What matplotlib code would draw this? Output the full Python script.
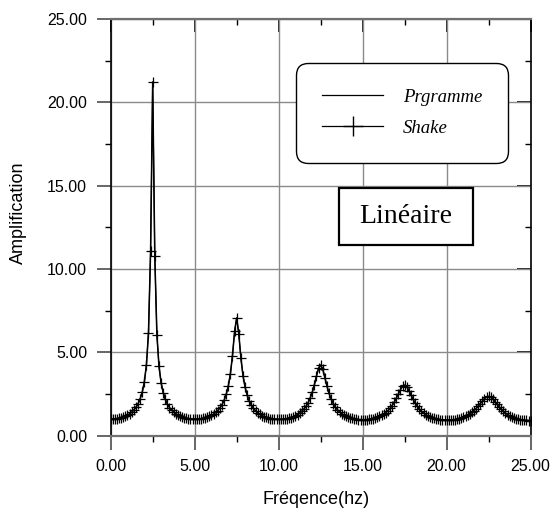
import numpy as np
import matplotlib
matplotlib.use("Agg")
import matplotlib.pyplot as plt
from matplotlib.lines import Line2D
from matplotlib.patches import Rectangle
from matplotlib.ticker import MultipleLocator, FormatStrFormatter

# frequency grid (Hz), step 0.125 Hz from 0 to 25 Hz
freq_step = 0.125
freq_hz = np.arange(201) * freq_step

programme = [
    1.00, 1.00, 1.01, 1.03, 1.05, 1.08, 1.12, 1.17, 1.24, 1.31,
    1.41, 1.54, 1.70, 1.91, 2.20, 2.60, 3.21, 4.22, 6.17, 11.07,
    21.22, 10.78, 6.07, 4.17, 3.18, 2.58, 2.18, 1.90, 1.69, 1.53,
    1.41, 1.31, 1.23, 1.17, 1.12, 1.08, 1.05, 1.02, 1.01, 1.00,
    1.00,
    1.00, 1.01, 1.02, 1.05, 1.08, 1.11, 1.16, 1.22, 1.30, 1.40,
    1.51, 1.67, 1.86, 2.12, 2.48, 2.98, 3.71, 4.81, 6.26, 7.07,
    6.11, 4.67, 3.61, 2.91, 2.43, 2.08, 1.83, 1.64, 1.49, 1.38,
    1.28, 1.21, 1.15, 1.10, 1.06, 1.03, 1.01, 1.00, 0.99, 0.98,
    0.99, 0.99, 1.01, 1.03, 1.06, 1.09, 1.14, 1.20, 1.27, 1.35,
    1.46, 1.60, 1.76, 1.98, 2.26, 2.61, 3.06, 3.59, 4.06, 4.24,
    3.99, 3.49, 2.97, 2.54, 2.19, 1.93, 1.72, 1.56, 1.43, 1.33,
    1.24, 1.18, 1.12, 1.07, 1.04, 1.01, 0.99, 0.97, 0.97, 0.96,
    0.96, 0.97, 0.99, 1.01, 1.03, 1.06, 1.11, 1.16, 1.22, 1.30,
    1.39, 1.50, 1.64, 1.81, 2.01, 2.25, 2.51, 2.77, 2.97, 3.03,
    2.93, 2.71, 2.44, 2.18, 1.95, 1.76, 1.60, 1.46, 1.35, 1.27,
    1.19, 1.13, 1.08, 1.04, 1.01, 0.98, 0.96, 0.95, 0.94, 0.94,
    0.94, 0.94, 0.96, 0.97, 1.00, 1.03, 1.06, 1.11, 1.17, 1.23,
    1.31, 1.40, 1.51, 1.63, 1.78, 1.93, 2.09, 2.23, 2.33, 2.36,
    2.31, 2.19, 2.04, 1.88, 1.72, 1.58, 1.46, 1.36, 1.27, 1.19,
    1.13, 1.08, 1.03, 1.00, 0.97, 0.95, 0.93, 0.92, 0.91, 0.90,
]

shake = [
    1.00, 1.00, 1.01, 1.03, 1.05, 1.08, 1.12, 1.17, 1.24, 1.31,
    1.41, 1.54, 1.70, 1.91, 2.20, 2.60, 3.21, 4.22, 6.17, 11.07,
    21.22, 10.78, 6.07, 4.17, 3.18, 2.58, 2.18, 1.90, 1.69, 1.53,
    1.41, 1.31, 1.23, 1.17, 1.12, 1.08, 1.05, 1.02, 1.01, 1.00,
    1.00,
    1.00, 1.01, 1.02, 1.05, 1.08, 1.11, 1.16, 1.22, 1.30, 1.40,
    1.51, 1.67, 1.86, 2.12, 2.48, 2.98, 3.71, 4.81, 6.26, 7.07,
    6.11, 4.67, 3.61, 2.91, 2.43, 2.08, 1.83, 1.64, 1.49, 1.38,
    1.28, 1.21, 1.15, 1.10, 1.06, 1.03, 1.01, 1.00, 0.99, 0.98,
    0.99, 0.99, 1.01, 1.03, 1.06, 1.09, 1.14, 1.20, 1.27, 1.35,
    1.46, 1.60, 1.76, 1.98, 2.26, 2.61, 3.06, 3.59, 4.06, 4.24,
    3.99, 3.49, 2.97, 2.54, 2.19, 1.93, 1.72, 1.56, 1.43, 1.33,
    1.24, 1.18, 1.12, 1.07, 1.04, 1.01, 0.99, 0.97, 0.97, 0.96,
    0.96, 0.97, 0.99, 1.01, 1.03, 1.06, 1.11, 1.16, 1.22, 1.30,
    1.39, 1.50, 1.64, 1.81, 2.01, 2.25, 2.51, 2.77, 2.97, 3.03,
    2.93, 2.71, 2.44, 2.18, 1.95, 1.76, 1.60, 1.46, 1.35, 1.27,
    1.19, 1.13, 1.08, 1.04, 1.01, 0.98, 0.96, 0.95, 0.94, 0.94,
    0.94, 0.94, 0.96, 0.97, 1.00, 1.03, 1.06, 1.11, 1.17, 1.23,
    1.31, 1.40, 1.51, 1.63, 1.78, 1.93, 2.09, 2.23, 2.33, 2.36,
    2.31, 2.19, 2.04, 1.88, 1.72, 1.58, 1.46, 1.36, 1.27, 1.19,
    1.13, 1.08, 1.03, 1.00, 0.97, 0.95, 0.93, 0.92, 0.91, 0.90,
]

series_labels = ["Prgramme", "Shake"]
x_label = "Fréqence(hz)"
y_label = "Amplification"
box_text = "Linéaire"

plt.rcParams["font.family"] = ["Liberation Sans", "DejaVu Sans"]

fig = plt.figure(figsize=(5.54, 5.21), dpi=100)
ax = fig.add_axes([0.1998, 0.1637, 0.7581, 0.7998])

ax.plot(freq_hz, programme, color="black", lw=1.1, zorder=3)
ax.plot(freq_hz, shake, color="black", lw=0.8, marker="+", markersize=6.5,
        markeredgewidth=0.9, zorder=4)

ax.set_xlim(0, 25)
ax.set_ylim(0, 25)
ax.xaxis.set_major_locator(MultipleLocator(5))
ax.xaxis.set_minor_locator(MultipleLocator(2.5))
ax.yaxis.set_major_locator(MultipleLocator(5))
ax.yaxis.set_minor_locator(MultipleLocator(2.5))
ax.xaxis.set_major_formatter(FormatStrFormatter("%.2f"))
ax.yaxis.set_major_formatter(FormatStrFormatter("%.2f"))

ax.grid(True, which="major", color="#8a8a8a", lw=1.0, zorder=0)
ax.set_axisbelow(True)

ax.tick_params(which="major", direction="out", length=10, width=1.4,
               color="#666666", labelsize=11.5)
ax.tick_params(which="minor", direction="out", length=4, width=1.0,
               color="black")
ax.tick_params(axis="x", which="major", pad=7)
ax.tick_params(axis="y", which="major", pad=7)

for side in ["left", "right"]:
    ax.spines[side].set_color("black")
    ax.spines[side].set_linewidth(1.2)
for side in ["top", "bottom"]:
    ax.spines[side].set_color("#707070")
    ax.spines[side].set_linewidth(1.6)

# inward ticks on top and right
secx = ax.secondary_xaxis("top")
secx.xaxis.set_major_locator(MultipleLocator(5))
secx.xaxis.set_minor_locator(MultipleLocator(2.5))
secx.tick_params(which="major", direction="in", length=9, width=1.2,
                 color="black", labeltop=False)
secx.tick_params(which="minor", direction="in", length=4, width=1.0,
                 color="black")
secx.spines["top"].set_visible(False)
secy = ax.secondary_yaxis("right")
secy.yaxis.set_major_locator(MultipleLocator(5))
secy.yaxis.set_minor_locator(MultipleLocator(2.5))
secy.tick_params(which="major", direction="in", length=10, width=1.2,
                 color="black", labelright=False)
secy.tick_params(which="minor", direction="in", length=4, width=1.0,
                 color="black")
secy.spines["right"].set_visible(False)

ax.set_xlabel(x_label, fontsize=13)
ax.set_ylabel(y_label, fontsize=13)
ax.xaxis.set_label_coords(0.489, -0.133)
ax.yaxis.set_label_coords(-0.199, 0.534)

# legend
handles = [
    Line2D([], [], color="black", lw=0.9),
    Line2D([], [], color="black", lw=0.9, marker="+", markersize=14,
           markeredgewidth=1.0),
]
leg = ax.legend(handles, series_labels, loc="upper left",
                bbox_to_anchor=(0.4405, 0.8951), borderaxespad=0,
                prop={"family": "Liberation Serif", "style": "italic",
                      "size": 13.5},
                handlelength=3.3, handletextpad=1.05, borderpad=1.38,
                labelspacing=0.75, fancybox=True, framealpha=1,
                edgecolor="black")
leg.get_frame().set_boxstyle("round", pad=0, rounding_size=0.65)
leg.get_frame().set_linewidth(1.0)
leg.set_zorder(6)

# "Linéaire" box
ax.add_patch(Rectangle((0.5443, 0.4576), 0.3176, 0.1361,
                       transform=ax.transAxes, facecolor="white",
                       edgecolor="black", lw=1.6, zorder=6))
ax.text(0.703, 0.5256, box_text, transform=ax.transAxes, ha="center",
        va="center", fontsize=20, family="Liberation Serif", zorder=7)

fig.savefig("out.png", dpi=100)
